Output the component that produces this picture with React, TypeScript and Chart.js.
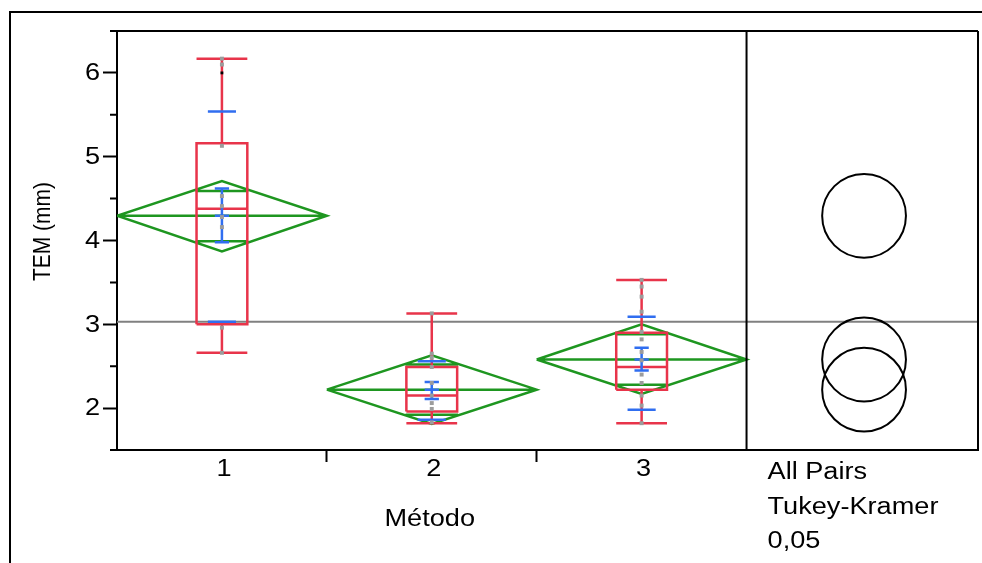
import React, { useEffect, useRef } from 'react';
import { Chart, registerables } from 'chart.js';

Chart.register(...registerables);

// ---------- data ----------
const categories = ['1', '2', '3'];
const yTickValues = [2, 3, 4, 5, 6];
const xTitle = 'Método';
const yTitle = 'TEM (mm)';
const comparisonLabels = ['All Pairs', 'Tukey-Kramer', '0,05'];

const groupMeans = [4.295, 2.22, 2.58];
const diamondHi = [4.71, 2.63, 3.0];
const diamondLo = [3.87, 1.81, 2.17];
const overlapHi = [4.59, 2.52, 2.88];
const overlapLo = [3.99, 1.92, 2.28];
const stdErrHi = [4.62, 2.31, 2.72];
const stdErrLo = [3.98, 2.11, 2.45];
const stdDevHi = [5.54, 2.56, 3.09];
const stdDevLo = [3.03, 1.86, 1.98];

const whiskerHi = [6.17, 3.13, 3.53];
const quartile3 = [5.16, 2.49, 2.9];
const medians = [4.38, 2.15, 2.49];
const quartile1 = [3.0, 1.96, 2.22];
const whiskerLo = [2.66, 1.82, 1.82];

const points1 = [6.17, 6.1, 5.13, 4.53, 4.41, 4.28, 4.16, 2.96, 2.66];
const points2 = [3.13, 2.65, 2.6, 2.49, 2.3, 2.15, 2.06, 1.99, 1.83];
const points3 = [3.53, 3.45, 3.33, 3.15, 2.91, 2.82, 2.67, 2.57, 2.4, 2.3, 2.15, 2.03, 1.82];
const markedPoints1 = [6.0];

const grandMean = 3.03;
const circleRadius = 0.5;

// ---------- layout / style constants ----------
const X_MAX = 4.103;
const CIRCLE_X = 3.56;
const BOX_HALF = 0.121;
const SD_HALF = 0.067;
const SE_HALF = 0.034;
const OVERLAP_HALF = 0.125;
const FONT = '"Liberation Sans", Arial, sans-serif';
const TEXT_STRETCH = 1.18;
const RED = '#E8344A';
const GREEN = '#1E9620';
const BLUE = '#306EF0';

type P = { x: number; y: number | null };
const paths = (lines: number[][][]): P[] => {
  const out: P[] = [];
  lines.forEach((line) => {
    line.forEach(([x, y]) => out.push({ x, y }));
    const last = line[line.length - 1];
    out.push({ x: last[0], y: null });
  });
  return out;
};

const centers = categories.map((_, i) => i + 0.5);

const greenLines: number[][][] = [];
const redLines: number[][][] = [];
const blueLines: number[][][] = [];
centers.forEach((c, i) => {
  const l = c - 0.5, r = c + 0.5, m = groupMeans[i];
  greenLines.push([[l, m], [c, diamondHi[i]], [r, m], [c, diamondLo[i]], [l, m]]);
  greenLines.push([[l, m], [r, m]]);
  greenLines.push([[c - OVERLAP_HALF, overlapHi[i]], [c + OVERLAP_HALF, overlapHi[i]]]);
  greenLines.push([[c - OVERLAP_HALF, overlapLo[i]], [c + OVERLAP_HALF, overlapLo[i]]]);

  redLines.push([[c - BOX_HALF, quartile1[i]], [c + BOX_HALF, quartile1[i]], [c + BOX_HALF, quartile3[i]], [c - BOX_HALF, quartile3[i]], [c - BOX_HALF, quartile1[i]]]);
  redLines.push([[c - BOX_HALF, medians[i]], [c + BOX_HALF, medians[i]]]);
  redLines.push([[c, quartile3[i]], [c, whiskerHi[i]]]);
  redLines.push([[c - BOX_HALF, whiskerHi[i]], [c + BOX_HALF, whiskerHi[i]]]);
  redLines.push([[c, quartile1[i]], [c, whiskerLo[i]]]);
  redLines.push([[c - BOX_HALF, whiskerLo[i]], [c + BOX_HALF, whiskerLo[i]]]);

  blueLines.push([[c, stdErrLo[i]], [c, stdErrHi[i]]]);
  blueLines.push([[c - SE_HALF, stdErrHi[i]], [c + SE_HALF, stdErrHi[i]]]);
  blueLines.push([[c - SE_HALF, stdErrLo[i]], [c + SE_HALF, stdErrLo[i]]]);
  blueLines.push([[c - SE_HALF, m], [c + SE_HALF, m]]);
  blueLines.push([[c - SD_HALF, stdDevHi[i]], [c + SD_HALF, stdDevHi[i]]]);
  blueLines.push([[c - SD_HALF, stdDevLo[i]], [c + SD_HALF, stdDevLo[i]]]);
});

const greyPoints: P[] = [points1, points2, points3].flatMap((arr, i) =>
  arr.map((v) => ({ x: centers[i], y: v }))
);
const blackPoints: P[] = markedPoints1.map((v) => ({ x: centers[0], y: v }));

const lineDs = (data: P[], color: string, width: number, order: number) => ({
  type: 'scatter' as const,
  data,
  showLine: true,
  spanGaps: false,
  borderColor: color,
  backgroundColor: color,
  borderWidth: width,
  pointRadius: 0,
  tension: 0,
  order,
});

const drawText = (
  ctx: CanvasRenderingContext2D,
  text: string,
  x: number,
  y: number,
  size: number,
  align: CanvasTextAlign,
  baseline: CanvasTextBaseline = 'alphabetic',
  rotate = false
) => {
  ctx.save();
  ctx.translate(x, y);
  if (rotate) {
    ctx.rotate(-Math.PI / 2);
    ctx.scale(1, TEXT_STRETCH);
  } else {
    ctx.scale(TEXT_STRETCH, 1);
  }
  ctx.font = `${size}px ${FONT}`;
  ctx.fillStyle = '#000';
  ctx.textAlign = align;
  ctx.textBaseline = baseline;
  ctx.fillText(text, 0, 0);
  ctx.restore();
};

const framePlugin = {
  id: 'framePlugin',
  afterDraw(chart: any) {
    const { ctx, chartArea: a, scales } = chart;
    const x = scales.x, y = scales.y;
    ctx.save();
    ctx.strokeStyle = '#000';
    ctx.lineWidth = 2;
    ctx.beginPath();
    ctx.moveTo(10, chart.height);
    ctx.lineTo(10, 12);
    ctx.lineTo(chart.width, 12);
    ctx.moveTo(a.left - 7, a.top);
    ctx.lineTo(a.right, a.top);
    const p3 = x.getPixelForValue(3);
    ctx.moveTo(p3, a.top);
    ctx.lineTo(p3, a.bottom);
    ctx.moveTo(a.right, a.top);
    ctx.lineTo(a.right, a.bottom);
    ctx.moveTo(a.left - 7, a.bottom);
    ctx.lineTo(a.left, a.bottom);
    for (let v = 1.5; v <= 6.5; v += 1) {
      const py = y.getPixelForValue(v);
      ctx.moveTo(a.left - 7, py);
      ctx.lineTo(a.left, py);
    }
    ctx.stroke();
    ctx.restore();

    // y tick labels
    yTickValues.forEach((v) => {
      drawText(ctx, String(v), a.left - 17, y.getPixelForValue(v) + 1, 23, 'right', 'middle');
    });
    // x tick labels
    categories.forEach((t, i) => {
      drawText(ctx, t, x.getPixelForValue(centers[i]) + 2, a.bottom + 26, 23, 'center');
    });
    // axis titles
    drawText(ctx, xTitle, x.getPixelForValue(1.5) - 2, a.bottom + 76, 23, 'center');
    drawText(ctx, yTitle, 50, (a.top + a.bottom) / 2 - 9, 21, 'center', 'alphabetic', true);
    // comparison-circle caption
    comparisonLabels.forEach((t, i) => {
      drawText(ctx, t, p3 + 21, a.bottom + 29 + i * 34.5, 23, 'left');
    });
  },
};

export default function App() {
  const ref = useRef<HTMLCanvasElement>(null);
  useEffect(() => {
    if (!ref.current) return;
    const chart = new Chart(ref.current, {
      type: 'scatter',
      data: {
        datasets: [
          lineDs([{ x: 0, y: grandMean }, { x: X_MAX, y: grandMean }], '#808080', 2, 6) as any,
          lineDs(paths(greenLines), GREEN, 2.5, 5) as any,
          lineDs(paths(redLines), RED, 2.5, 4) as any,
          lineDs(paths(blueLines), BLUE, 2.5, 3) as any,
          {
            type: 'scatter',
            data: greyPoints,
            pointStyle: 'rect',
            pointRadius: 2.8,
            backgroundColor: '#9C9C9C',
            borderWidth: 0,
            order: 1,
          } as any,
          {
            type: 'scatter',
            data: blackPoints,
            pointStyle: 'rect',
            pointRadius: 2,
            backgroundColor: '#000',
            borderWidth: 0,
            order: 0,
          } as any,
          {
            type: 'scatter',
            data: groupMeans.map((m) => ({ x: CIRCLE_X, y: m })),
            pointStyle: 'circle',
            pointRadius: (c: any) => {
              const ys = c.chart.scales.y;
              return Math.abs(ys.getPixelForValue(0) - ys.getPixelForValue(circleRadius));
            },
            backgroundColor: 'rgba(0,0,0,0)',
            borderColor: '#000',
            borderWidth: 2,
            order: 2,
          } as any,
        ],
      },
      options: {
        responsive: false,
        maintainAspectRatio: false,
        animation: false,
        events: [],
        devicePixelRatio: 1,
        layout: { padding: { left: 0, top: 31, right: 2, bottom: 0 } },
        plugins: { legend: { display: false }, tooltip: { enabled: false } },
        scales: {
          x: {
            type: 'linear',
            min: 0,
            max: X_MAX,
            position: 'bottom',
            afterBuildTicks: (s: any) => {
              s.ticks = [0.5, 1, 1.5, 2, 2.5].map((v) => ({ value: v }));
            },
            afterFit: (s: any) => {
              s.height = 113;
            },
            ticks: { display: false, autoSkip: false },
            grid: {
              drawOnChartArea: false,
              drawTicks: true,
              tickLength: 12,
              tickWidth: 2,
              tickColor: (c: any) => (Number.isInteger(c.tick?.value) ? '#000' : 'rgba(0,0,0,0)'),
            },
            border: { display: true, color: '#000', width: 2 },
          },
          y: {
            type: 'linear',
            min: 1.5,
            max: 6.5,
            afterFit: (s: any) => {
              s.width = 117;
            },
            ticks: { display: false, stepSize: 0.5, autoSkip: false },
            grid: {
              drawOnChartArea: false,
              drawTicks: true,
              tickLength: 14,
              tickWidth: 2,
              tickColor: (c: any) => (Number.isInteger(c.tick?.value) ? '#000' : 'rgba(0,0,0,0)'),
            },
            border: { display: true, color: '#000', width: 2 },
          },
        },
      },
      plugins: [framePlugin],
    } as any);
    return () => chart.destroy();
  }, []);

  return (
    <div style={{ position: 'fixed', left: 0, top: 0, width: 982, height: 563, background: '#fff' }}>
      <canvas ref={ref} width={982} height={563} style={{ width: 982, height: 563, display: 'block' }} />
    </div>
  );
}
